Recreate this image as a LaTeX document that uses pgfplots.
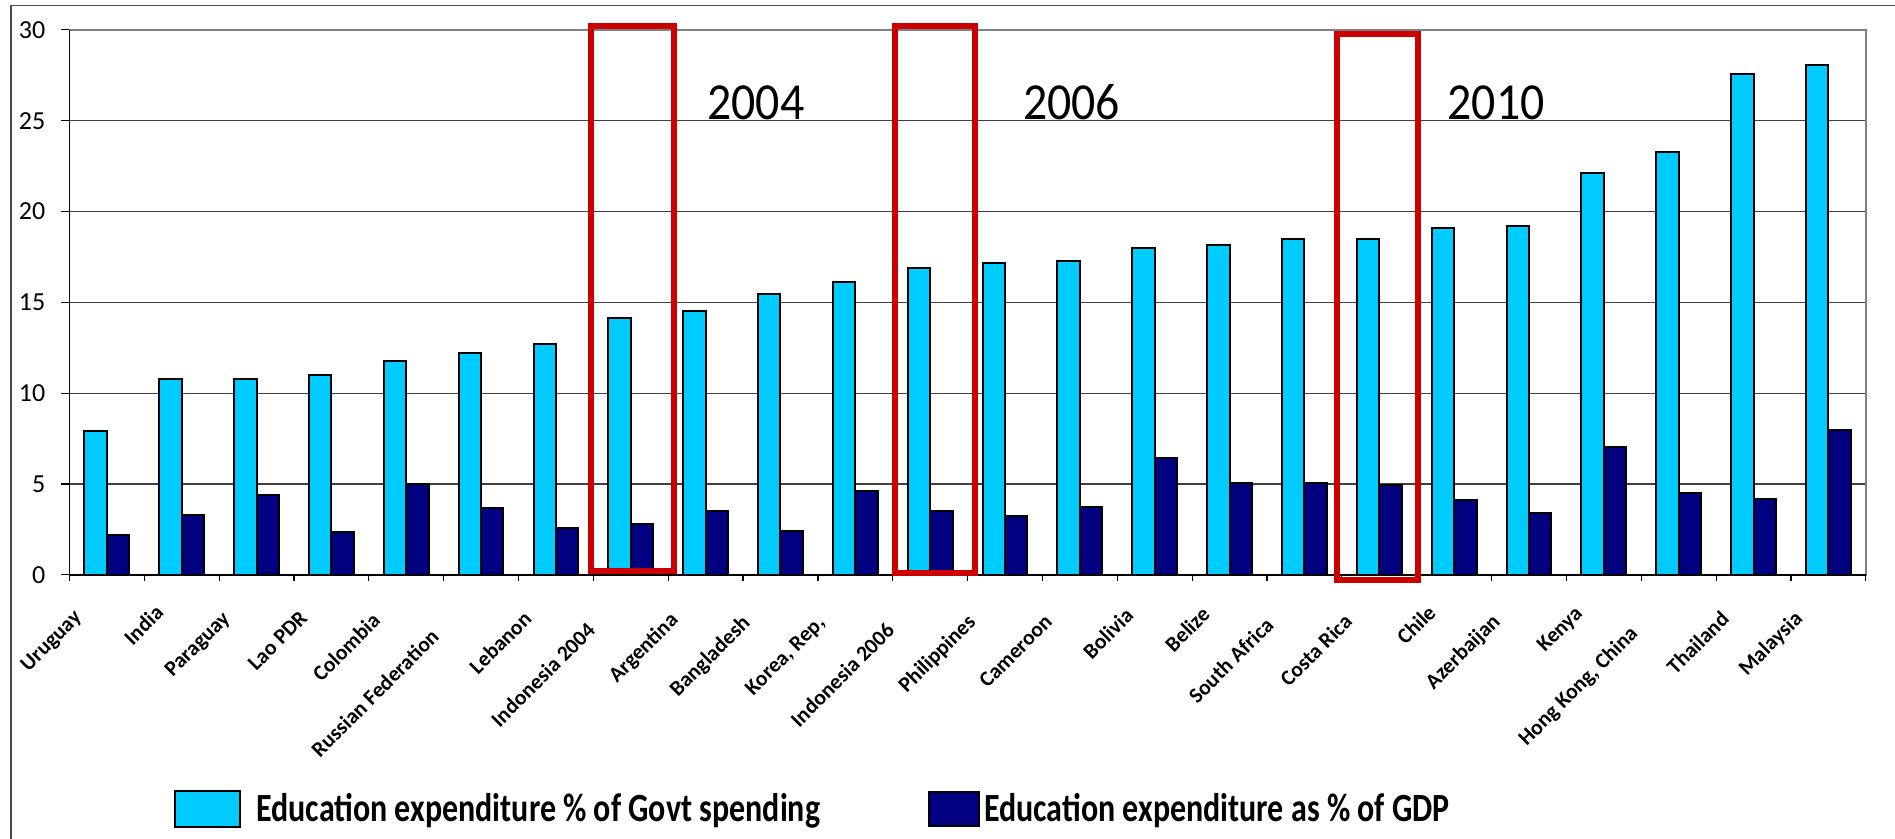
\documentclass[border=0pt]{standalone}
\usepackage{pgfplots}
\usepackage{pgfplotstable}
\pgfplotsset{compat=1.18}
\usepackage{fontspec}
\setmainfont{Carlito}
\newfontfamily\legendfont{Carlito}[FakeStretch=0.8]
\newfontfamily\yearfont{Carlito}[FakeStretch=0.92]
\definecolor{govblue}{RGB}{0,204,255}
\definecolor{gdpnavy}{RGB}{0,0,128}
\definecolor{boxred}{RGB}{204,0,0}
\newcommand{\pl}[1]{\setbox0=\hbox{#1}\copy0\hspace*{0.27\wd0}}

\pgfplotstableread{
x gov gdp
0 7.9 2.2
1 10.8 3.3
2 10.8 4.4
3 11.0 2.35
4 11.75 5.0
5 12.2 3.65
6 12.7 2.55
7 14.15 2.8
8 14.5 3.5
9 15.45 2.4
10 16.1 4.6
11 16.9 3.5
12 17.15 3.25
13 17.3 3.75
14 18.0 6.45
15 18.15 5.05
16 18.5 5.05
17 18.5 4.95
18 19.1 4.1
19 19.2 3.4
20 22.1 7.05
21 23.3 4.5
22 27.55 4.2
23 28.05 7.95
}\datatable

\begin{document}
\begin{tikzpicture}
\useasboundingbox (0,0) rectangle (947.5pt,419.5pt);
% outer chart frame (left and top edges visible)
\draw[black!70, line width=0.8pt] (5.5pt,0) -- (5.5pt,416.65pt) -- (947.5pt,416.65pt);
\begin{axis}[
  at={(34.7pt,132.1pt)}, anchor=south west,
  scale only axis,
  width=898.2pt, height=272.45pt,
  xmin=-0.5, xmax=23.5,
  ymin=0, ymax=30,
  ytick={0,5,...,30},
  ymajorgrids,
  major grid style={black!75, line width=0.6pt},
  axis line style={gray, line width=0.8pt},
  tick align=outside,
  ytick pos=left,
  xtick pos=bottom,
  major tick length=4pt,
  minor tick length=3pt,
  xtick={0,...,23},
  minor xtick={-0.5,0.5,...,23.5},
  major x tick style={draw=none},
  tick style={black, line width=0.6pt},
  xticklabels={\pl{Uruguay}, \pl{India}, \pl{Paraguay}, \pl{Lao PDR}, \pl{Colombia}, \pl{Russian Federation}, \pl{Lebanon}, \pl{Indonesia 2004}, \pl{Argentina}, \pl{Bangladesh}, \pl{Korea, Rep,}, \pl{Indonesia 2006}, \pl{Philippines}, \pl{Cameroon}, \pl{Bolivia}, \pl{Belize}, \pl{South Africa}, \pl{Costa Rica}, \pl{Chile}, \pl{Azerbaijan}, \pl{Kenya}, \pl{Hong Kong, China}, \pl{Thailand}, \pl{Malaysia}},
  xticklabel style={font=\bfseries\fontsize{10.8}{12}\selectfont, xshift=-4.4pt, yshift=-6.4pt, rotate=45, anchor=east},
  yticklabel style={font=\fontsize{13}{15}\selectfont, xshift=-4.5pt},
  /pgf/number format/assume math mode=true,
  ybar=0pt,
  bar width=11.2pt,
  clip=false,
  legend columns=2,
  legend style={draw=none, fill=none, at={(axis description cs:0.0549,-0.43)}, anchor=west,
    font=\legendfont\bfseries\fontsize{20}{23}\selectfont,
    /tikz/every even column/.append style={column sep=52pt}},
]
\addplot[fill=govblue, draw=black, line width=1pt,
  legend image code/.code={\draw[fill=govblue, draw=black, line width=1pt] (0pt,-9.15pt) rectangle (32.5pt,9.15pt); \path (38pt,0);}]
  table[x=x, y=gov] {\datatable};
\addlegendentry{Education expenditure \% of Govt spending}
\addplot[fill=gdpnavy, draw=black, line width=1pt,
  legend image code/.code={\draw[fill=gdpnavy, draw=black, line width=1pt] (0pt,-8.5pt) rectangle (25pt,8.5pt);}]
  table[x=x, y=gdp] {\datatable};
\addlegendentry{Education expenditure as \% of GDP}
% black left and bottom axis lines
\draw[black, line width=0.8pt] (rel axis cs:0,1) -- (rel axis cs:0,0) -- (rel axis cs:1,0);
% red highlight boxes
\draw[boxred, line width=3.1pt] (axis cs:6.47,0.19) rectangle (axis cs:7.58,30.21);
\draw[boxred, line width=3.1pt] (axis cs:10.53,0.12) rectangle (axis cs:11.6,30.21);
\draw[boxred, line width=3.1pt] (axis cs:16.43,-0.27) rectangle (axis cs:17.52,29.79);
\node[font=\yearfont\fontsize{26}{30}\selectfont] at (axis cs:8.67,26) {2004};
\node[font=\yearfont\fontsize{26}{30}\selectfont] at (axis cs:12.89,26) {2006};
\node[font=\yearfont\fontsize{26}{30}\selectfont] at (axis cs:18.56,26) {2010};
\end{axis}
\end{tikzpicture}
\end{document}
